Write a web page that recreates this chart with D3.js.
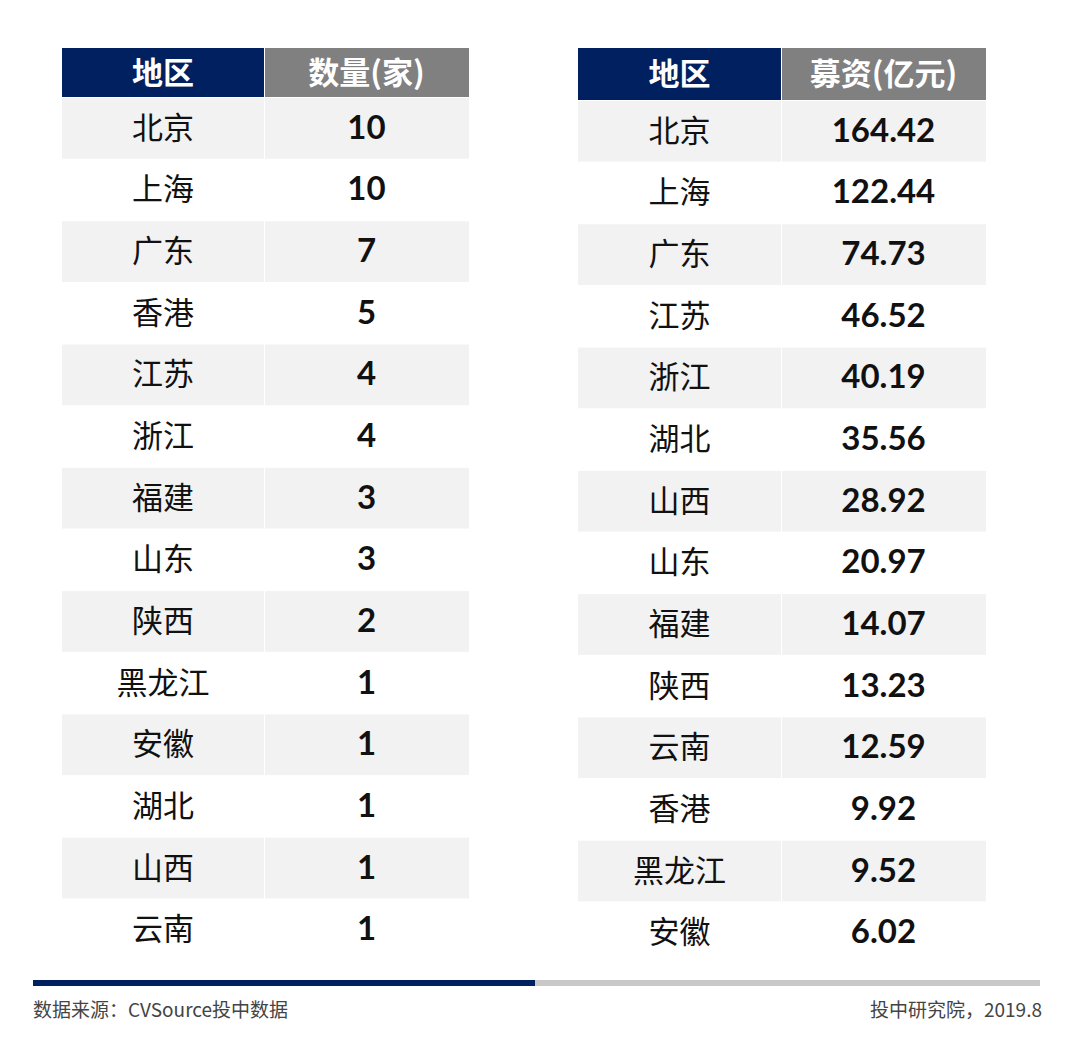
<!DOCTYPE html>
<html><head><meta charset="utf-8">
<script src="https://cdn.jsdelivr.net/npm/d3@7"></script>
<style>body{margin:0;background:#fff}</style></head>
<body><svg id="c" width="1080" height="1060"></svg>
<script>
const countRegions=["北京","上海","广东","香港","江苏","浙江","福建","山东","陕西","黑龙江","安徽","湖北","山西","云南"];
const countValues=["10","10","7","5","4","4","3","3","2","1","1","1","1","1"];
const fundRegions=["北京","上海","广东","江苏","浙江","湖北","山西","山东","福建","陕西","云南","香港","黑龙江","安徽"];
const fundValues=["164.42","122.44","74.73","46.52","40.19","35.56","28.92","20.97","14.07","13.23","12.59","9.92","9.52","6.02"];
const headersL=["地区","数量(家)"], headersR=["地区","募资(亿元)"];
const svg=d3.select("#c");
const font="'Noto Sans CJK SC','Noto Sans',sans-serif";
function table(x0,xm,x1,hy0,hy1,rowEnd,regions,values,headers){
  const y=d3.scaleBand().domain(d3.range(regions.length)).range([hy1,rowEnd]).paddingInner(0);
  const g=svg.append("g");
  g.append("rect").attr("x",x0).attr("y",hy0).attr("width",xm-x0).attr("height",hy1-hy0).attr("fill","#002060");
  g.append("rect").attr("x",xm+1).attr("y",hy0).attr("width",x1-xm-1).attr("height",hy1-hy0).attr("fill","#808080");
  [[(x0+xm)/2,headers[0]],[(xm+x1)/2,headers[1]]].forEach(([cx,t])=>g.append("text").attr("x",cx).attr("y",(hy0+hy1)/2+11).attr("text-anchor","middle").attr("fill","#fff").attr("font-family",font).attr("font-weight","bold").attr("font-size",31).text(t));
  regions.forEach((r,i)=>{
    if(i%2===0){
      g.append("rect").attr("x",x0).attr("y",y(i)+1).attr("width",xm-x0).attr("height",y.bandwidth()-1).attr("fill","#f2f2f2");
      g.append("rect").attr("x",xm+1).attr("y",y(i)+1).attr("width",x1-xm-1).attr("height",y.bandwidth()-1).attr("fill","#f2f2f2");
    }
    const cy=y(i)+y.bandwidth()/2+11;
    g.append("text").attr("x",(x0+xm)/2).attr("y",cy).attr("text-anchor","middle").attr("fill","#111").attr("font-family",font).attr("font-size",31).text(r);
    g.append("text").attr("x",(xm+x1)/2).attr("y",cy).attr("text-anchor","middle").attr("fill","#111").attr("font-family","Lato,'Noto Sans',sans-serif").attr("font-weight","bold").attr("font-size",33).text(values[i]);
  });
}
table(62,264,469,48,97,960,countRegions,countValues,headersL);
table(578,781,986,48,100,963,fundRegions,fundValues,headersR);
svg.append("rect").attr("x",33).attr("y",980).attr("width",502).attr("height",6).attr("fill","#002060");
svg.append("rect").attr("x",535).attr("y",980).attr("width",505).attr("height",6).attr("fill","#c8c8c8");
svg.append("text").attr("x",33).attr("y",1017).attr("fill","#444").attr("font-family",font).attr("font-size",19).text("数据来源：CVSource投中数据");
svg.append("text").attr("x",1042).attr("y",1017).attr("text-anchor","end").attr("fill","#444").attr("font-family",font).attr("font-size",19).text("投中研究院，2019.8");
</script></body></html>
